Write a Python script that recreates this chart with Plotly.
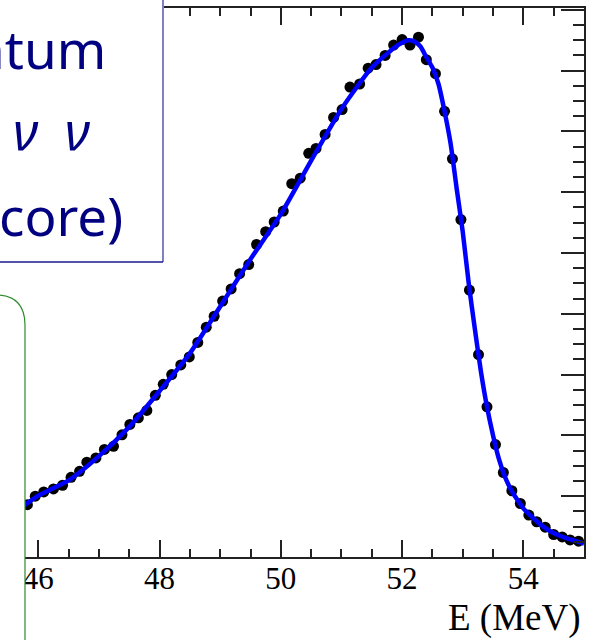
import plotly.graph_objects as go

# ---- data ----
energy_mev = [45.82, 45.95, 46.09, 46.25, 46.40, 46.54, 46.68, 46.80, 46.95, 47.09,
              47.24, 47.38, 47.51, 47.65, 47.79, 47.93, 48.06, 48.20, 48.35, 48.49,
              48.63, 48.77, 48.90, 49.04, 49.18, 49.32, 49.47, 49.60, 49.75, 49.89,
              50.04, 50.18, 50.32, 50.46, 50.58, 50.73, 50.87, 51.01, 51.14, 51.30,
              51.44, 51.57, 51.72, 51.86, 52.00, 52.13, 52.27, 52.40, 52.55, 52.70,
              52.83, 52.97, 53.11, 53.26, 53.40, 53.54, 53.67, 53.81, 53.95, 54.09,
              54.22, 54.36, 54.50, 54.64, 54.77, 54.91]
counts = [86, 100, 107, 112, 118, 131, 141, 156, 163, 177,
          182, 201, 218, 229, 241, 266, 284, 300, 316, 329,
          353, 378, 396, 421, 441, 466, 481, 514, 535, 551,
          569, 614, 623, 664, 672, 695, 723, 736, 773, 778,
          804, 810, 825, 842, 851, 842, 855, 818, 795, 733,
          655, 555, 439, 333, 247, 185, 139, 109, 88, 69,
          58, 49, 37, 33, 28, 26]

fit_energy = [45.7, 46.0, 46.5, 47.0, 47.5, 48.0, 48.5, 49.0, 49.5, 50.0,
              50.5, 51.0, 51.5, 51.8, 51.9, 52.0, 52.1, 52.2, 52.3, 52.4,
              52.5, 52.6, 52.7, 52.8, 52.9, 53.0, 53.1, 53.2, 53.3, 53.4,
              53.5, 53.6, 53.7, 53.8, 53.9, 54.0, 54.15, 54.3, 54.45, 54.6,
              54.8, 55.0]
fit_counts = [80, 101, 126, 166, 214, 273, 335, 412, 490, 564,
              652, 737, 805, 832, 840, 846, 850, 848, 840, 822,
              805, 778, 733, 680, 606, 535, 449, 375, 305, 247,
              200, 160, 131, 110, 94, 80, 65, 52, 42, 35,
              28, 22]

xtick_vals = [46, 48, 50, 52, 54]
xtick_text = ["46", "48", "50", "52", "54"]
box_lines = ["ntum", "<i>\u03bd\u2002\u03bd</i>", "core)"]
xlabel = "E (MeV)"

# ---- layout geometry (pixels) ----
W, H = 594, 640
ML, MR, MT, MB = 0, 10, 8, 83
PW = W - ML - MR
PH = H - MT - MB


def px(x):
    return (x - ML) / PW


def py(y):
    return (H - MB - y) / PH


fig = go.Figure()
fig.add_trace(go.Scatter(x=energy_mev, y=counts, mode="markers",
                         marker=dict(color="black", size=11, line=dict(width=0)),
                         cliponaxis=True, showlegend=False))
fig.add_trace(go.Scatter(x=fit_energy, y=fit_counts, mode="lines",
                         line=dict(color="#0000ff", width=4.5, shape="spline", smoothing=0.6),
                         showlegend=False))

fig.update_layout(
    width=W, height=H,
    margin=dict(l=ML, r=MR, t=MT, b=MB, pad=0),
    paper_bgcolor="white", plot_bgcolor="white",
    xaxis=dict(range=[45.368, 55.0], showgrid=False, zeroline=False,
               showline=True, linecolor="#222", linewidth=2, mirror="ticks",
               ticks="inside", ticklen=17, tickwidth=1.5, tickcolor="#222",
               tickvals=xtick_vals, ticktext=xtick_text, ticklabelstandoff=-7,
               tickfont=dict(family="Liberation Serif", size=31, color="black"),
               minor=dict(dtick=0.5, tick0=46, ticks="inside", ticklen=8,
                          tickwidth=1.5, tickcolor="#222", showgrid=False)),
    yaxis=dict(range=[0, 903], side="right", showgrid=False, zeroline=False,
               showline=True, linecolor="#222", linewidth=2, mirror=False,
               ticks="inside", ticklen=23, tickwidth=1.5, tickcolor="#222",
               dtick=100, tick0=0, showticklabels=False,
               minor=dict(dtick=25, ticks="inside", ticklen=11, tickwidth=1.5,
                          tickcolor="#222", showgrid=False)),
)

# blue text box (top-left)
fig.add_shape(type="rect", xref="paper", yref="paper",
              x0=px(-10), x1=px(163), y0=py(262), y1=py(-10),
              fillcolor="white", line=dict(width=0), layer="above")
fig.add_shape(type="line", xref="paper", yref="paper",
              x0=px(163), x1=px(163), y0=py(262), y1=py(-10),
              line=dict(color="#8080c4", width=2), layer="above")
fig.add_shape(type="line", xref="paper", yref="paper",
              x0=px(-10), x1=px(163), y0=py(262), y1=py(262),
              line=dict(color="#1a1a8e", width=1.5), layer="above")

# green rounded box (bottom-left)
path = (f"M {px(-10)},{py(295)} L {px(-5)},{py(295)} "
        f"Q {px(25)},{py(295)} {px(25)},{py(325)} "
        f"L {px(25)},{py(660)} L {px(-10)},{py(660)} Z")
fig.add_shape(type="path", xref="paper", yref="paper", path=path,
              fillcolor="white", line=dict(color="#2e8b2e", width=1.2), layer="above")

# box text
for txt, xr, yc in zip(box_lines, [108, 93, 125], [48, 130, 215]):
    fig.add_annotation(text=txt, xref="paper", yref="paper",
                       x=px(xr), y=py(yc), xanchor="right", yanchor="middle",
                       showarrow=False,
                       font=dict(family="Noto Sans", size=53, color="#000080"))

# axis title
fig.add_annotation(text=xlabel, xref="paper", yref="paper",
                   x=px(583), y=py(618), xanchor="right", yanchor="middle",
                   showarrow=False,
                   font=dict(family="Liberation Serif", size=37, color="black"))

fig.write_html("out.html")
